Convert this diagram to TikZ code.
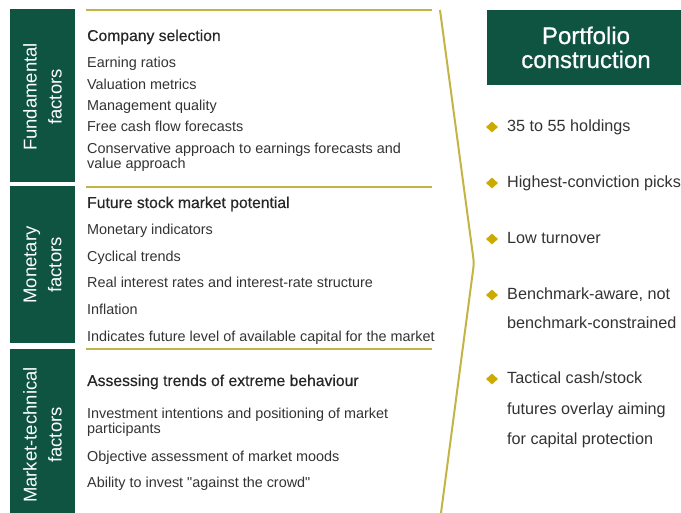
\documentclass[tikz,border=0pt]{standalone}
\usepackage{fontspec}
\setmainfont{Liberation Sans}[Ligatures=TeXOff]
\newfontface\mediumface{Liberation Sans}[FakeBold=0.4, Ligatures=TeXOff]
\newfontface\titleface{Liberation Sans}[FakeBold=0.7]
\usetikzlibrary{shapes.geometric}
\definecolor{fgreen}{HTML}{0F5441}
\definecolor{gold}{HTML}{C4B446}
\definecolor{diam}{HTML}{CCAA00}
\definecolor{ink}{HTML}{333333}
\begin{document}
\begin{tikzpicture}[x=1pt,y=-1pt,
  factorbox/.style={fill=fgreen, draw=none},
  sidelabel/.style={rotate=90, text=white, align=center, inner sep=0pt,
    font=\fontsize{18.5}{25}\selectfont},
  item/.style={anchor=base west, inner sep=0pt, text=ink,
    font=\fontsize{14.4}{16}\selectfont},
  heading/.style={anchor=base west, inner sep=0pt, text=black!85,
    font=\mediumface\fontsize{15.7}{17}\selectfont},
  rule/.style={draw=gold, line width=2.4pt},
  bullet/.style={anchor=base west, inner sep=0pt, text=ink,
    font=\fontsize{16.2}{18}\selectfont},
  diamondmark/.style={diamond, fill=diam, inner sep=0pt,
    minimum width=12pt, minimum height=11pt},
  titletext/.style={anchor=base, inner sep=0pt, text=white,
    font=\titleface\fontsize{24}{26}\selectfont}
]
\useasboundingbox (0,0) rectangle (681,513);
\fill[white] (0,0) rectangle (681,513);

% factor boxes on the left
\fill[factorbox] (10,9) rectangle (75,182);
\fill[factorbox] (10,186) rectangle (75,343);
\fill[factorbox] (10,349) rectangle (75,513);
\node[sidelabel] (fund) at (42.5,97) {Fundamental\\factors};
\node[sidelabel] (mon) at (42.5,265) {Monetary\\factors};
\node[sidelabel] (tech) at (42.5,435) {Market-technical\\factors};

% separating rules
\draw[rule] (86,10) -- (432,10);
\draw[rule] (86,187) -- (432,187);
\draw[rule] (86,349) -- (432,349);

% fundamental factors
\node[heading] (cs) at (87,41) {Company selection};
\node[item] (f1) at (87,68) {Earning ratios};
\node[item] (f2) at (87,90) {Valuation metrics};
\node[item] (f3) at (87,111) {Management quality};
\node[item] (f4) at (87,132) {Free cash flow forecasts};
\node[item] (f5a) at (87,154) {Conservative approach to earnings forecasts and};
\node[item] (f5b) at (87,169) {value approach};

% monetary factors
\node[heading] (fs) at (87,208) {Future stock market potential};
\node[item] (m1) at (87,235) {Monetary indicators};
\node[item] (m2) at (87,262) {Cyclical trends};
\node[item] (m3) at (87,288) {Real interest rates and interest-rate structure};
\node[item] (m4) at (87,315) {Inflation};
\node[item] (m5) at (87,342) {Indicates future level of available capital for the market};

% market-technical factors
\node[heading] (at) at (87,386) {Assessing trends of extreme behaviour};
\node[item] (t1a) at (87,418) {Investment intentions and positioning of market};
\node[item] (t1b) at (87,433) {participants};
\node[item] (t2) at (87,461) {Objective assessment of market moods};
\node[item] (t3) at (87,487) {Ability to invest "against the crowd"};

% bracket gathering the three groups
\coordinate (btop) at (440,10);
\coordinate (btip) at (474,263);
\coordinate (bbot) at (441,513);
\draw[draw=gold, line width=2pt, rounded corners=5pt] (btop) -- (btip) -- (bbot);

% portfolio construction
\fill[fgreen] (487,10) rectangle (690,85);
\node[titletext] (pc1) at (586,44) {Portfolio};
\node[titletext] (pc2) at (586,68) {construction};

\node[diamondmark] (d1) at (492,127) {};
\node[bullet] (b1) at (507,132) {35 to 55 holdings};
\node[diamondmark] (d2) at (492,183) {};
\node[bullet] (b2) at (507,188) {Highest-conviction picks};
\node[diamondmark] (d3) at (492,239) {};
\node[bullet] (b3) at (507,244) {Low turnover};
\node[diamondmark] (d4) at (492,295) {};
\node[bullet] (b4a) at (507,300) {Benchmark-aware, not};
\node[bullet] (b4b) at (507,329) {benchmark-constrained};
\node[diamondmark] (d5) at (492,379) {};
\node[bullet] (b5a) at (507,384) {Tactical cash/stock};
\node[bullet] (b5b) at (507,415) {futures overlay aiming};
\node[bullet] (b5c) at (507,444) {for capital protection};
\end{tikzpicture}
\end{document}
